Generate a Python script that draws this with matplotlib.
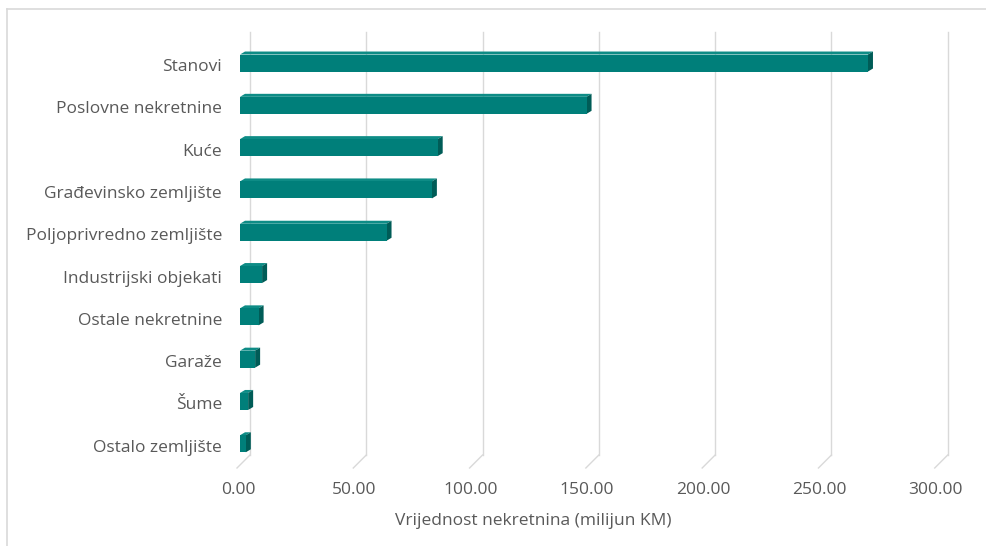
import numpy as np
import matplotlib.pyplot as plt
from matplotlib.patches import Polygon, Rectangle
from matplotlib.lines import Line2D

plt.rcParams['font.family'] = ['Open Sans', 'DejaVu Sans']

kategorije = ['Stanovi', 'Poslovne nekretnine', 'Kuće', 'Građevinsko zemljište',
              'Poljoprivredno zemljište', 'Industrijski objekati', 'Ostale nekretnine',
              'Garaže', 'Šume', 'Ostalo zemljište']
vrijednosti = [270.0, 149.0, 85.0, 82.5, 63.0, 9.5, 8.0, 6.5, 3.5, 2.5]
xticks = [0, 50, 100, 150, 200, 250, 300]

front = '#007F7A'
top = '#0E8C86'
side = '#005C57'
grid = '#D9D9D9'
txt = '#595959'

fig = plt.figure(figsize=(9.87, 5.46), dpi=100)
ax = fig.add_axes([240 / 987, 1 - 468 / 546, 721 / 987, 436 / 546])

px = 721 / 310.0          # pixels per unit on x
py = 42.3                 # pixels per category
ax.set_xlim(0, 310)
ax.set_ylim(9.62, -0.686)

# back wall / floor gridlines
gdx = 10 / px
floor_back = 9.62 - 13 / py
for v in xticks:
    ax.plot([v + gdx, v + gdx], [-0.686, floor_back], color=grid, lw=1, zorder=1, clip_on=False)
    ax.plot([v + gdx, v - 3 / px], [floor_back, 9.62], color=grid, lw=1, zorder=1, clip_on=False)

# bars with a shallow 3d look
h = 17 / py
ddx = 5 / px
ddy = 3 / py
for i, v in enumerate(vrijednosti):
    y0 = i - h / 2 + 2 / py
    y1 = y0 + h
    ax.add_patch(Polygon([[0, y0], [v, y0], [v + ddx, y0 - ddy], [ddx, y0 - ddy]],
                         closed=True, fc=top, ec='none', zorder=3))
    ax.add_patch(Polygon([[v, y0], [v + ddx, y0 - ddy], [v + ddx, y1 - ddy], [v, y1]],
                         closed=True, fc=side, ec='none', zorder=3))
    ax.add_patch(Rectangle((0, y0), v, h, fc=front, ec='none', zorder=4))

ax.set_xticks([])
ax.set_yticks([])
for s in ax.spines.values():
    s.set_visible(False)

for i, k in enumerate(kategorije):
    ax.text(-18 / px, i + 6 / py, k, ha='right', va='center', fontsize=12.5, color=txt, clip_on=False)
for v in xticks:
    ax.text(v - 2 / px, 9.62 + 22 / py, f'{v:.2f}', ha='center', va='center', fontsize=12.5,
            color=txt, clip_on=False)
fig.text(533 / 987, 1 - 521 / 546, 'Vrijednost nekretnina (milijun KM)', ha='center', va='center',
         fontsize=12.5, color=txt)

# chart frame
fig.add_artist(Line2D([7 / 987, 7 / 987], [0, 1 - 9 / 546], color=grid, lw=1.2, transform=fig.transFigure))
fig.add_artist(Line2D([7 / 987, 1], [1 - 9 / 546, 1 - 9 / 546], color=grid, lw=1.2, transform=fig.transFigure))

fig.savefig('out.png', dpi=100)
